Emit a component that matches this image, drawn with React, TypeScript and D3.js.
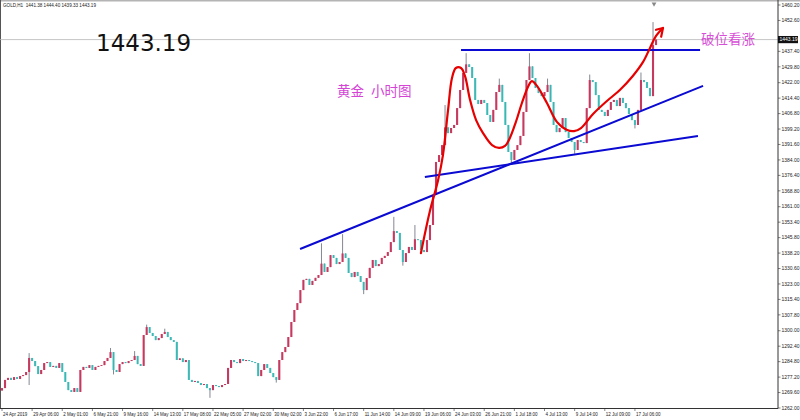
import { useEffect, useRef } from "react";
import * as d3 from "d3";

// GOLD H1, one candle here ~ 6 hourly bars
const firstOpen = 1270.6;
const closes = [
    1271.8, 1275.8, 1276.8, 1275.8, 1277.2, 1276.3, 1277.7, 1278.2, 1279.7, 1286.6,
    1285.1, 1282.6, 1278.7, 1280.7, 1284.1, 1284.6, 1282.2, 1282.7, 1281.7, 1284.1,
    1279.7, 1274.8, 1270.8, 1269.9, 1271.8, 1269.9, 1280.7, 1282.2, 1281.7, 1283.1,
    1280.7, 1282.2, 1282.7, 1283.1, 1285.1, 1286.6, 1289.5, 1280.7, 1279.7, 1283.6,
    1284.6, 1284.1, 1285.1, 1285.6, 1287.6, 1283.6, 1282.7, 1297.9, 1301.8, 1298.9,
    1297.4, 1295.4, 1296.4, 1298.4, 1299.4, 1296.9, 1295.4, 1294.5, 1285.6, 1286.4,
    1284.6, 1285.6, 1275.8, 1274.8, 1275.3, 1274.3, 1273.3, 1273.8, 1271.8, 1270.8,
    1273.3, 1272.8, 1272.3, 1273.3, 1273.8, 1281.7, 1285.6, 1284.6, 1284.1, 1286.1,
    1285.1, 1285.6, 1285.1, 1284.6, 1284.1, 1277.7, 1280.7, 1283.6, 1281.7, 1279.2,
    1277.2, 1275.8, 1285.6, 1289.5, 1292.0, 1296.9, 1304.3, 1310.2, 1313.6, 1320.0,
    1325.0, 1325.5, 1322.5, 1324.5, 1326.0, 1327.4, 1333.0, 1328.9, 1331.3, 1337.2,
    1335.8, 1332.8, 1333.8, 1338.0, 1335.8, 1328.4, 1326.4, 1328.9, 1326.9, 1324.0,
    1320.0, 1325.9, 1330.9, 1334.8, 1331.8, 1332.8, 1335.8, 1336.8, 1338.7, 1343.6,
    1349.0, 1348.1, 1339.7, 1333.8, 1338.2, 1341.2, 1339.7, 1345.0, 1344.6, 1339.7,
    1338.7, 1344.6, 1352.0, 1366.8, 1383.0, 1386.4, 1391.3, 1400.0, 1397.2, 1399.7,
    1401.2, 1409.5, 1418.4, 1426.8, 1431.0, 1429.7, 1424.3, 1413.5, 1411.5, 1413.5,
    1412.0, 1406.1, 1402.7, 1408.6, 1417.4, 1420.9, 1412.5, 1401.2, 1387.9, 1384.0,
    1388.9, 1391.3, 1395.8, 1407.6, 1423.3, 1430.0, 1424.3, 1419.4, 1416.9, 1415.4,
    1417.4, 1420.9, 1412.5, 1401.2, 1397.7, 1399.7, 1404.6, 1397.7, 1394.8, 1392.8,
    1388.9, 1393.8, 1392.8, 1392.3, 1409.5, 1423.3, 1422.3, 1415.9, 1408.6, 1407.6,
    1405.6, 1408.6, 1412.5, 1413.5, 1410.5, 1414.5, 1412.0, 1409.5, 1406.6, 1403.6,
    1401.2, 1408.6, 1423.3, 1422.3, 1419.4, 1415.4, 1440.5, 1443.19,
];
// long wicks [candle index, price]
const spikeHighs: [number, number][] = [
    [9, 1289.0], [36, 1291.5], [44, 1290.0], [48, 1303.0], [54, 1301.0], [106, 1343.0],
    [113, 1347.5], [130, 1356.0], [137, 1352.0], [147, 1411.0], [154, 1436.5], [165, 1424.0],
    [175, 1436.5], [181, 1424.0], [195, 1426.0], [212, 1427.0], [216, 1451.8],
];
const spikeLows: [number, number][] = [
    [9, 1273.3], [37, 1278.5], [69, 1267.0], [91, 1274.5], [120, 1318.0], [133, 1332.0],
    [169, 1382.5], [190, 1387.0], [210, 1399.5],
];

const timeLabels = [
    "24 Apr 2019", "29 Apr 06:00", "2 May 01:00", "6 May 21:00", "9 May 16:00", "14 May 13:00",
    "17 May 08:00", "22 May 05:00", "27 May 02:00", "30 May 02:00", "3 Jun 22:00", "6 Jun 17:00",
    "11 Jun 14:00", "14 Jun 09:00", "19 Jun 06:00", "24 Jun 03:00", "26 Jun 21:00", "1 Jul 18:00",
    "4 Jul 13:00", "9 Jul 14:00", "12 Jul 09:00", "17 Jul 06:00",
];
const priceTicks = [
    1460.2, 1452.6, 1445.0, 1437.4, 1429.8, 1422.0, 1414.4, 1406.8, 1399.2, 1391.6, 1384.0,
    1376.4, 1368.8, 1361.0, 1353.4, 1345.8, 1338.2, 1330.6, 1323.0, 1315.4, 1307.8, 1300.0,
    1292.4, 1284.8, 1277.2, 1269.6, 1262.0,
];
const lastPrice = 1443.19;
const header = "GOLD,H1  1441.38 1444.40 1439.33 1443.19";

// drawn annotations, in [candle index, price]
const resistance: [number, number][] = [[152.3, 1438.1], [231.6, 1438.1]];
const steepSupport: [number, number][] = [[98.9, 1340.2], [232.6, 1420.4]];
const flatSupport: [number, number][] = [[140.3, 1375.6], [230.9, 1395.8]];
const redCurve: [number, number][] = [
    [139.0, 1338.2], [141.9, 1358.4], [144.7, 1374.1], [146.3, 1386.4], [148.0, 1408.6],
    [149.3, 1424.3], [150.6, 1429.2], [152.3, 1429.2], [153.6, 1425.3], [155.3, 1413.5],
    [157.3, 1403.6], [159.6, 1397.2], [162.6, 1391.3], [164.9, 1389.9], [166.9, 1390.9],
    [168.5, 1394.8], [170.5, 1402.7], [172.5, 1412.0], [174.5, 1419.9], [175.8, 1422.8],
    [177.5, 1420.4], [180.8, 1412.0], [184.1, 1402.7], [187.5, 1398.7], [189.8, 1398.2],
    [192.1, 1399.7], [196.1, 1406.6], [200.7, 1413.0], [205.0, 1418.4], [209.3, 1425.3],
    [212.7, 1432.2], [215.0, 1439.1], [217.0, 1445.0], [219.3, 1448.9],
];
const arrowHead: [number, number][] = [[217.0, 1448.0], [219.3, 1448.9], [218.7, 1444.6]];

export default function App() {
    const svgRef = useRef<SVGSVGElement>(null);

    useEffect(() => {
        if (!svgRef.current) return;
        const svg = d3.select(svgRef.current);
        svg.selectAll("*").remove();

        const right = 778;
        const bottom = 408.5;
        const x = d3.scaleLinear().domain([0, 255]).range([2, 2 + 255 * 3.014]);
        const y = d3.scaleLinear().domain([1262.0, 1460.2]).range([408, 5]);
        const font = "'Liberation Sans', Arial, sans-serif";

        svg.append("rect").attr("width", 800).attr("height", 420).attr("fill", "white");
        svg.append("rect").attr("width", 800).attr("height", 1.5).attr("fill", "#b4b4b4");
        svg.append("line").attr("x1", 0.5).attr("x2", 0.5).attr("y1", 0).attr("y2", bottom)
            .attr("stroke", "#555").attr("stroke-width", 1);

        // last price line
        svg.append("line").attr("x1", 0).attr("x2", right).attr("y1", y(lastPrice)).attr("y2", y(lastPrice))
            .attr("stroke", "#b8b8b8").attr("stroke-width", 0.8);

        // candles
        const hiMap = new Map(spikeHighs);
        const loMap = new Map(spikeLows);
        const candles = closes.map((c, i) => {
            const o = i === 0 ? firstOpen : closes[i - 1];
            const h = Math.max(o, c, hiMap.get(i) ?? -Infinity);
            const l = Math.min(o, c, loMap.get(i) ?? Infinity);
            return { i, o, h, l, c };
        });
        const g = svg.append("g");
        g.selectAll("line.wick").data(candles).enter().append("line")
            .attr("x1", (d) => x(d.i)).attr("x2", (d) => x(d.i))
            .attr("y1", (d) => y(d.h)).attr("y2", (d) => y(d.l))
            .attr("stroke", "#4d5566").attr("stroke-width", 0.7);
        g.selectAll("rect.body").data(candles).enter().append("rect")
            .attr("x", (d) => x(d.i) - 1.05).attr("width", 2.1)
            .attr("y", (d) => y(Math.max(d.o, d.c)))
            .attr("height", (d) => Math.max(0.9, Math.abs(y(d.o) - y(d.c))))
            .attr("fill", (d) => (d.c >= d.o ? "#d6365f" : "#3fc9c3"));
        // thin dark centre stroke, like the dense MT4 bars
        g.selectAll("line.core").data(candles).enter().append("line")
            .attr("x1", (d) => x(d.i)).attr("x2", (d) => x(d.i))
            .attr("y1", (d) => y(Math.max(d.o, d.c))).attr("y2", (d) => y(Math.min(d.o, d.c)))
            .attr("stroke", "#5a6070").attr("stroke-width", 0.4).attr("opacity", 0.6);

        // blue trend lines
        const line = d3.line<[number, number]>().x((d) => x(d[0])).y((d) => y(d[1]));
        [resistance, steepSupport, flatSupport].forEach((pts) => {
            svg.append("path").attr("d", line(pts)).attr("fill", "none")
                .attr("stroke", "#0a0ad2").attr("stroke-width", 2);
        });

        // red curve + arrow
        const curve = d3.line<[number, number]>().x((d) => x(d[0])).y((d) => y(d[1])).curve(d3.curveCatmullRom);
        svg.append("path").attr("d", curve(redCurve)).attr("fill", "none")
            .attr("stroke", "#e60000").attr("stroke-width", 2.2).attr("stroke-linecap", "round");
        svg.append("path").attr("d", line(arrowHead)).attr("fill", "none")
            .attr("stroke", "#e60000").attr("stroke-width", 2.2).attr("stroke-linejoin", "round")
            .attr("stroke-linecap", "round");

        // axes frame
        svg.append("line").attr("x1", right).attr("x2", right).attr("y1", 0).attr("y2", bottom)
            .attr("stroke", "#333").attr("stroke-width", 1);
        svg.append("line").attr("x1", 0).attr("x2", right).attr("y1", bottom).attr("y2", bottom)
            .attr("stroke", "#333").attr("stroke-width", 1);

        // price axis
        const yAx = svg.append("g");
        priceTicks.forEach((p) => {
            if (Math.abs(p - lastPrice) < 3) return;
            yAx.append("line").attr("x1", right).attr("x2", right + 2.5).attr("y1", y(p)).attr("y2", y(p))
                .attr("stroke", "#333").attr("stroke-width", 0.6);
            yAx.append("text").attr("x", right + 3.5).attr("y", y(p)).attr("dy", "0.35em")
                .attr("font-family", font).attr("font-size", 5).attr("fill", "#222")
                .text(p.toFixed(2));
        });
        svg.append("rect").attr("x", right).attr("y", y(lastPrice) - 3.6).attr("width", 20).attr("height", 7.2)
            .attr("fill", "#111");
        svg.append("text").attr("x", right + 1.5).attr("y", y(lastPrice)).attr("dy", "0.35em")
            .attr("font-family", font).attr("font-size", 5).attr("fill", "white").text(lastPrice.toFixed(2));

        // time axis
        const xAx = svg.append("g");
        timeLabels.forEach((t, k) => {
            const px = x(k * 10);
            xAx.append("line").attr("x1", px).attr("x2", px).attr("y1", bottom).attr("y2", bottom + 2.5)
                .attr("stroke", "#333").attr("stroke-width", 0.6);
            xAx.append("text").attr("x", px + 1).attr("y", 415.5)
                .attr("font-family", font).attr("font-size", 4.5).attr("fill", "#222").text(t);
        });

        // chart-shift marker
        svg.append("path").attr("d", d3.symbol().type(d3.symbolTriangle).size(10)())
            .attr("transform", `translate(${x(closes.length - 1) - 2},4) rotate(180)`).attr("fill", "#888");

        // texts
        svg.append("text").attr("x", 3).attr("y", 7).attr("font-family", font).attr("font-size", 4.6)
            .attr("fill", "#222").attr("xml:space", "preserve").text(header);
        svg.append("text").attr("x", 96).attr("y", 51).attr("font-family", "Tahoma, 'DejaVu Sans', sans-serif")
            .attr("font-size", 23).attr("fill", "#111").text(lastPrice.toFixed(2));
        const cjk = "'Noto Sans CJK SC', sans-serif";
        svg.append("text").attr("x", 337).attr("y", 95.5).attr("font-family", cjk).attr("font-size", 13.5)
            .attr("fill", "#d445d6").text("黄金");
        svg.append("text").attr("x", 371).attr("y", 95.5).attr("font-family", cjk).attr("font-size", 13.5)
            .attr("fill", "#d445d6").text("小时图");
        svg.append("text").attr("x", 701).attr("y", 43.5).attr("font-family", cjk).attr("font-size", 13.5)
            .attr("fill", "#d84fd8").text("破位看涨");
    }, []);

    return (
        <svg
            ref={svgRef}
            width={800}
            height={420}
            viewBox="0 0 800 420"
            style={{ position: "absolute", left: 0, top: 0, display: "block" }}
        />
    );
}
